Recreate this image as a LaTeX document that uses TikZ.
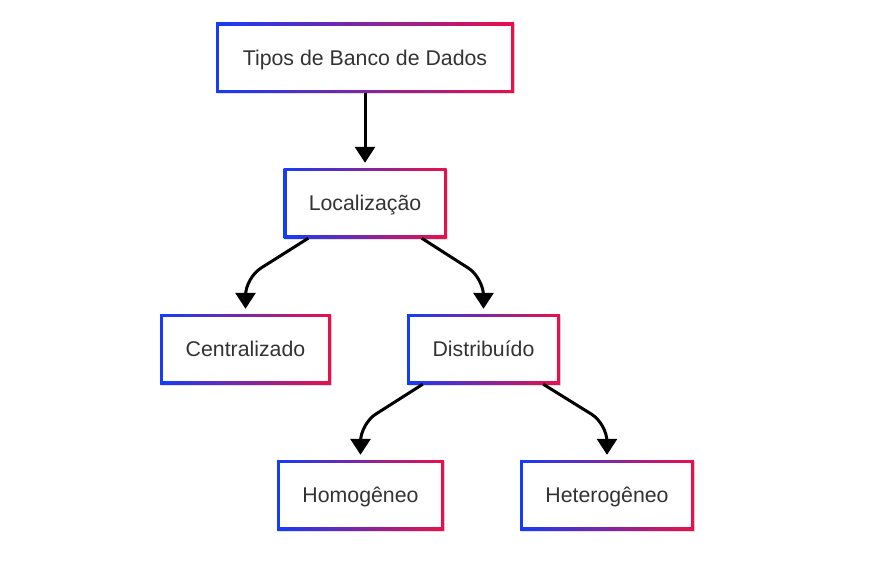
\documentclass[tikz,border=0pt]{standalone}
\usepackage{fontspec}
\setmainfont{Liberation Sans}
\usetikzlibrary{arrows.meta,shadows}
\usepackage{xcolor}
\definecolor{borderBlue}{RGB}{20,60,250}
\definecolor{borderRed}{RGB}{235,15,75}
\definecolor{labelGray}{RGB}{51,51,51}
\newcommand{\boxHeight}{70pt}
\newcommand{\borderWidth}{3pt}
\newcommand{\cornerDrop}{36pt}

\begin{document}
\begin{tikzpicture}[x=1pt, y=-1pt,
    typeBox/.style={rectangle, minimum height=\boxHeight, inner sep=0pt,
      left color=borderBlue, right color=borderRed, text=labelGray,
      font=\fontsize{21.3}{25}\selectfont, text depth=0pt,
      drop shadow={shadow xshift=1pt, shadow yshift=-1.5pt, opacity=0.12, fill=black},
      path picture={\fill[white] ([shift={(\borderWidth,\borderWidth)}]path picture bounding box.south west)
        rectangle ([shift={(-\borderWidth,-\borderWidth)}]path picture bounding box.north east);}},
    flow/.style={line width=3pt, -{Triangle[width=20pt,length=16pt]}, rounded corners=18pt, shorten >=5pt}]

  \useasboundingbox (0,0) rectangle (875,574);

  % levels of the tree
  \node[typeBox, minimum width=298pt] (tipos) at (365,57.5) {Tipos de Banco de Dados};
  \node[typeBox, minimum width=163pt] (loc) at (365,203) {Localização};
  \node[typeBox, minimum width=171pt] (cent) at (245.5,349) {Centralizado};
  \node[typeBox, minimum width=153pt] (dist) at (483.5,349) {Distribuído};
  \node[typeBox, minimum width=167pt] (homo) at (360.5,495) {Homogêneo};
  \node[typeBox, minimum width=174pt] (hetero) at (607,495) {Heterogêneo};

  % connectors
  \draw[flow] (tipos.south) -- (loc.north);
  \draw[flow] ([xshift=25pt]loc.south west) -- ([yshift=\cornerDrop]cent.north) -- (cent.north);
  \draw[flow] ([xshift=-25pt]loc.south east) -- ([yshift=\cornerDrop]dist.north) -- (dist.north);
  \draw[flow] ([xshift=16pt]dist.south west) -- ([yshift=\cornerDrop]homo.north) -- (homo.north);
  \draw[flow] ([xshift=-17pt]dist.south east) -- ([yshift=\cornerDrop]hetero.north) -- (hetero.north);
\end{tikzpicture}
\end{document}
